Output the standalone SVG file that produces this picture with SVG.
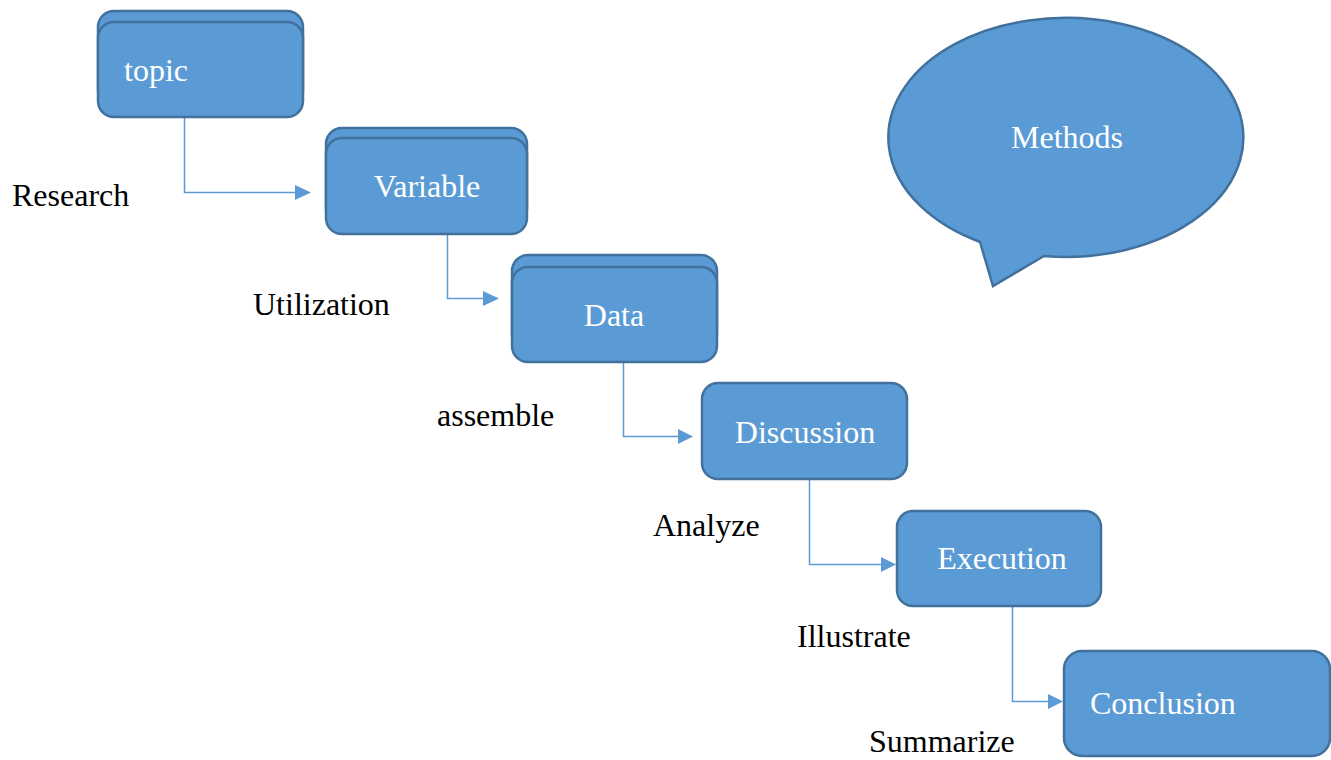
<svg xmlns="http://www.w3.org/2000/svg" width="1331" height="760" viewBox="0 0 1331 760">
<style>
.box{fill:#5B9BD5;stroke:#41719C;stroke-width:2.5}
.bt{font-family:"Liberation Serif","Times New Roman",serif;font-size:32px;fill:#FFFFFF}
.lb{font-family:"Liberation Serif","Times New Roman",serif;font-size:32px;fill:#000000}
.cn{fill:none;stroke:#5B9BD5;stroke-width:1.5}
.ah{fill:#5B9BD5}
</style>
<rect width="1331" height="760" fill="#FFFFFF"/>
<g id="connectors">
<path class="cn" d="M184.5,117 V192.5 H297"/>
<path class="ah" d="M295,185 L311,192.5 L295,200 Z"/>
<path class="cn" d="M447.5,234 V298.5 H485"/>
<path class="ah" d="M483,291 L499,298.5 L483,306 Z"/>
<path class="cn" d="M623.5,362 V436.5 H680"/>
<path class="ah" d="M678,429 L693,436.5 L678,444 Z"/>
<path class="cn" d="M809.5,479 V564.5 H883"/>
<path class="ah" d="M881,557 L896,564.5 L881,572 Z"/>
<path class="cn" d="M1012.5,606 V701.5 H1050"/>
<path class="ah" d="M1048,694 L1063,701.5 L1048,709 Z"/>
</g>
<g id="topic">
<rect class="box" x="98" y="11" width="205" height="95" rx="16"/>
<rect class="box" x="98" y="22" width="205" height="95" rx="16"/>
<text class="bt" x="124" y="81">topic</text>
</g>
<g id="variable">
<rect class="box" x="326" y="128" width="201" height="96" rx="16"/>
<rect class="box" x="326" y="138" width="201" height="96" rx="16"/>
<text class="bt" x="427" y="197" text-anchor="middle">Variable</text>
</g>
<g id="data">
<rect class="box" x="512" y="255" width="205" height="95" rx="16"/>
<rect class="box" x="512" y="267" width="205" height="95" rx="16"/>
<text class="bt" x="614" y="326" text-anchor="middle">Data</text>
</g>
<g id="discussion">
<rect class="box" x="702" y="383" width="205" height="96" rx="16"/>
<text class="bt" x="805" y="443" text-anchor="middle">Discussion</text>
</g>
<g id="execution">
<rect class="box" x="897" y="511" width="204" height="95" rx="16"/>
<text class="bt" x="1002" y="569" text-anchor="middle">Execution</text>
</g>
<g id="conclusion">
<rect class="box" x="1064" y="651" width="266" height="105" rx="18"/>
<text class="bt" x="1090" y="714">Conclusion</text>
</g>
<g id="methods">
<path class="box" d="M980,242 A177.5,119.5 0 1 1 1044,256 L993,286 Z"/>
<text class="bt" x="1067" y="148" text-anchor="middle">Methods</text>
</g>
<g id="labels">
<text class="lb" x="12" y="206">Research</text>
<text class="lb" x="253" y="315">Utilization</text>
<text class="lb" x="437" y="426">assemble</text>
<text class="lb" x="653" y="536">Analyze</text>
<text class="lb" x="797" y="647">Illustrate</text>
<text class="lb" x="869" y="752">Summarize</text>
</g>
</svg>
